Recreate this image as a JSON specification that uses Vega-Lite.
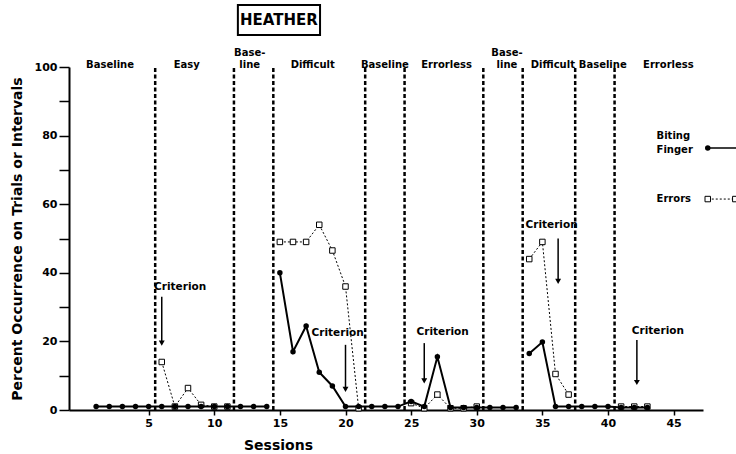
{
  "$schema": "https://vega.github.io/schema/vega-lite/v6.json",
  "width": 634,
  "height": 343,
  "autosize": "none",
  "padding": {"left": 69, "top": 67, "right": 33, "bottom": 44},
  "background": "white",
  "config": {"view": {"stroke": null}, "font": "DejaVu Sans"},
  "datasets": {
    "obs": [
      {"session": 1, "measure": "Biting", "seg": "b1", "value": 1},
      {"session": 2, "measure": "Biting", "seg": "b1", "value": 1},
      {"session": 3, "measure": "Biting", "seg": "b1", "value": 1},
      {"session": 4, "measure": "Biting", "seg": "b1", "value": 1},
      {"session": 5, "measure": "Biting", "seg": "b1", "value": 1},
      {"session": 6, "measure": "Biting", "seg": "b1", "value": 1},
      {"session": 7, "measure": "Biting", "seg": "b1", "value": 1},
      {"session": 8, "measure": "Biting", "seg": "b1", "value": 1},
      {"session": 9, "measure": "Biting", "seg": "b1", "value": 1},
      {"session": 10, "measure": "Biting", "seg": "b1", "value": 1},
      {"session": 11, "measure": "Biting", "seg": "b1", "value": 1},
      {"session": 12, "measure": "Biting", "seg": "b1", "value": 1},
      {"session": 13, "measure": "Biting", "seg": "b1", "value": 1},
      {"session": 14, "measure": "Biting", "seg": "b1", "value": 1},
      {"session": 15, "measure": "Biting", "seg": "b2", "value": 40},
      {"session": 16, "measure": "Biting", "seg": "b2", "value": 17},
      {"session": 17, "measure": "Biting", "seg": "b2", "value": 24.5},
      {"session": 18, "measure": "Biting", "seg": "b2", "value": 11},
      {"session": 19, "measure": "Biting", "seg": "b2", "value": 7},
      {"session": 20, "measure": "Biting", "seg": "b2", "value": 1},
      {"session": 21, "measure": "Biting", "seg": "b2", "value": 1},
      {"session": 22, "measure": "Biting", "seg": "b2", "value": 1},
      {"session": 23, "measure": "Biting", "seg": "b2", "value": 1},
      {"session": 24, "measure": "Biting", "seg": "b2", "value": 1},
      {"session": 25, "measure": "Biting", "seg": "b2", "value": 2.5},
      {"session": 26, "measure": "Biting", "seg": "b2", "value": 1},
      {"session": 27, "measure": "Biting", "seg": "b2", "value": 15.5},
      {"session": 28, "measure": "Biting", "seg": "b2", "value": 0.7},
      {"session": 29, "measure": "Biting", "seg": "b2", "value": 0.7},
      {"session": 30, "measure": "Biting", "seg": "b2", "value": 0.7},
      {"session": 31, "measure": "Biting", "seg": "b2", "value": 0.7},
      {"session": 32, "measure": "Biting", "seg": "b2", "value": 0.7},
      {"session": 33, "measure": "Biting", "seg": "b2", "value": 0.7},
      {"session": 34, "measure": "Biting", "seg": "b3", "value": 16.5},
      {"session": 35, "measure": "Biting", "seg": "b3", "value": 19.8},
      {"session": 36, "measure": "Biting", "seg": "b3", "value": 1},
      {"session": 37, "measure": "Biting", "seg": "b3", "value": 1},
      {"session": 38, "measure": "Biting", "seg": "b3", "value": 1},
      {"session": 39, "measure": "Biting", "seg": "b3", "value": 1},
      {"session": 40, "measure": "Biting", "seg": "b3", "value": 1},
      {"session": 41, "measure": "Biting", "seg": "b3", "value": 0.7},
      {"session": 42, "measure": "Biting", "seg": "b3", "value": 0.7},
      {"session": 43, "measure": "Biting", "seg": "b3", "value": 0.7},
      {"session": 6, "measure": "Errors", "seg": "e1", "value": 14},
      {"session": 7, "measure": "Errors", "seg": "e1", "value": 1},
      {"session": 8, "measure": "Errors", "seg": "e1", "value": 6.4},
      {"session": 9, "measure": "Errors", "seg": "e1", "value": 1.5},
      {"session": 10, "measure": "Errors", "seg": "e1", "value": 1},
      {"session": 11, "measure": "Errors", "seg": "e1", "value": 1},
      {"session": 15, "measure": "Errors", "seg": "e2", "value": 49},
      {"session": 16, "measure": "Errors", "seg": "e2", "value": 49},
      {"session": 17, "measure": "Errors", "seg": "e2", "value": 49},
      {"session": 18, "measure": "Errors", "seg": "e2", "value": 54},
      {"session": 19, "measure": "Errors", "seg": "e2", "value": 46.5},
      {"session": 20, "measure": "Errors", "seg": "e2", "value": 36},
      {"session": 21, "measure": "Errors", "seg": "e2", "value": 0.5},
      {"session": 25, "measure": "Errors", "seg": "e3", "value": 2},
      {"session": 26, "measure": "Errors", "seg": "e3", "value": 0.5},
      {"session": 27, "measure": "Errors", "seg": "e3", "value": 4.5},
      {"session": 28, "measure": "Errors", "seg": "e3", "value": 0.5},
      {"session": 29, "measure": "Errors", "seg": "e3", "value": 0.5},
      {"session": 30, "measure": "Errors", "seg": "e3", "value": 1},
      {"session": 34, "measure": "Errors", "seg": "e4", "value": 44},
      {"session": 35, "measure": "Errors", "seg": "e4", "value": 49},
      {"session": 36, "measure": "Errors", "seg": "e4", "value": 10.5},
      {"session": 37, "measure": "Errors", "seg": "e4", "value": 4.5},
      {"session": 41, "measure": "Errors", "seg": "e5", "value": 1},
      {"session": 42, "measure": "Errors", "seg": "e5", "value": 1},
      {"session": 43, "measure": "Errors", "seg": "e5", "value": 1}
    ],
    "phases": [
      {"session": 5.5, "value": 0, "value2": 100},
      {"session": 11.5, "value": 0, "value2": 100},
      {"session": 14.5, "value": 0, "value2": 100},
      {"session": 21.5, "value": 0, "value2": 100},
      {"session": 24.5, "value": 0, "value2": 100},
      {"session": 30.5, "value": 0, "value2": 100},
      {"session": 33.5, "value": 0, "value2": 100},
      {"session": 37.5, "value": 0, "value2": 100},
      {"session": 40.5, "value": 0, "value2": 100}
    ],
    "phaseLabels": [
      {"session": 2.06, "value": 100.6, "label": "Baseline"},
      {"session": 7.9, "value": 100.6, "label": "Easy"},
      {"session": 12.7, "value": 104.2, "label": "Base-"},
      {"session": 12.7, "value": 100.6, "label": "line"},
      {"session": 17.5, "value": 100.6, "label": "Difficult"},
      {"session": 23.0, "value": 100.6, "label": "Baseline"},
      {"session": 27.7, "value": 100.6, "label": "Errorless"},
      {"session": 32.3, "value": 104.2, "label": "Base-"},
      {"session": 32.3, "value": 100.6, "label": "line"},
      {"session": 35.8, "value": 100.6, "label": "Difficult"},
      {"session": 39.6, "value": 100.6, "label": "Baseline"},
      {"session": 44.6, "value": 100.6, "label": "Errorless"}
    ],
    "criterionText": [
      {"session": 7.4, "value": 35.9, "label": "Criterion"},
      {"session": 19.4, "value": 22.4, "label": "Criterion"},
      {"session": 27.4, "value": 22.7, "label": "Criterion"},
      {"session": 35.7, "value": 53.9, "label": "Criterion"},
      {"session": 43.8, "value": 23, "label": "Criterion"}
    ],
    "arrows": [
      {"session": 6, "value": 33, "value2": 19.5},
      {"session": 20, "value": 19, "value2": 6},
      {"session": 26, "value": 19.5, "value2": 8.5},
      {"session": 36.2, "value": 50, "value2": 37.5},
      {"session": 42.2, "value": 20.4, "value2": 8}
    ],
    "legendText": [
      {"session": 43.7, "value": 79.9, "label": "Biting"},
      {"session": 43.7, "value": 75.8, "label": "Finger"},
      {"session": 43.7, "value": 61.5, "label": "Errors"}
    ],
    "legendBiting": [
      {"session": 47.6, "value": 76.4},
      {"session": 50.5, "value": 76.4}
    ],
    "legendErrors": [
      {"session": 47.6, "value": 61.5},
      {"session": 49.7, "value": 61.5}
    ],
    "titleBox": [
      {"session": 11.8, "session2": 18.06, "value": 118.1, "value2": 109.3, "label": "HEATHER", "mid": 14.93, "midv": 113.7}
    ]
  },
  "encoding": {
    "x": {
      "field": "session",
      "type": "quantitative",
      "scale": {"domain": [-1.067, 47.238], "nice": false, "zero": false},
      "axis": {
        "values": [5, 10, 15, 20, 25, 30, 35, 40, 45],
        "grid": false,
        "domainColor": "black",
        "domainWidth": 2,
        "tickColor": "black",
        "tickWidth": 1.5,
        "tickSize": 5,
        "labelFont": "DejaVu Sans",
        "labelFontWeight": "bold",
        "labelFontSize": 11,
        "labelColor": "black",
        "labelPadding": 2,
        "title": "Sessions",
        "titleFont": "DejaVu Sans",
        "titleFontSize": 14,
        "titleFontWeight": "bold",
        "titleColor": "black",
        "titleX": 209,
        "titleY": 35,
        "titleBaseline": "middle"
      }
    },
    "y": {
      "field": "value",
      "type": "quantitative",
      "scale": {"domain": [0, 100], "nice": false},
      "axis": {
        "values": [0, 10, 20, 30, 40, 50, 60, 70, 80, 90, 100],
        "labelExpr": "datum.value % 20 == 0 ? datum.label : ''",
        "grid": false,
        "domainColor": "black",
        "domainWidth": 2,
        "tickColor": "black",
        "tickWidth": 1.5,
        "tickSize": 10,
        "labelFont": "DejaVu Sans",
        "labelFontWeight": "bold",
        "labelFontSize": 11,
        "labelColor": "black",
        "labelPadding": 2,
        "title": "Percent Occurrence on Trials or Intervals",
        "titleFont": "DejaVu Sans",
        "titleFontSize": 14,
        "titleFontWeight": "bold",
        "titleColor": "black",
        "titleX": -52,
        "titleBaseline": "middle"
      }
    }
  },
  "layer": [
    {
      "data": {"name": "phases"},
      "mark": {"type": "rule", "color": "black", "strokeWidth": 2.5, "strokeDash": [4, 2.5]},
      "encoding": {"y2": {"field": "value2"}}
    },
    {
      "data": {"name": "obs"},
      "transform": [{"filter": "datum.measure == 'Errors'"}],
      "mark": {"type": "line", "color": "black", "strokeWidth": 1, "strokeDash": [2, 2]},
      "encoding": {"detail": {"field": "seg"}}
    },
    {
      "data": {"name": "obs"},
      "transform": [{"filter": "datum.measure == 'Errors'"}],
      "mark": {"type": "point", "shape": "square", "filled": true, "fill": "white", "stroke": "black", "strokeWidth": 1, "size": 30, "opacity": 1}
    },
    {
      "data": {"name": "obs"},
      "transform": [{"filter": "datum.measure == 'Biting'"}],
      "mark": {"type": "line", "color": "black", "strokeWidth": 2},
      "encoding": {"detail": {"field": "seg"}}
    },
    {
      "data": {"name": "obs"},
      "transform": [{"filter": "datum.measure == 'Biting'"}],
      "mark": {"type": "point", "shape": "circle", "filled": true, "color": "black", "size": 30, "opacity": 1}
    },
    {
      "data": {"name": "phaseLabels"},
      "mark": {"type": "text", "font": "DejaVu Sans", "fontWeight": "bold", "fontSize": 10, "color": "black", "baseline": "middle"},
      "encoding": {"text": {"field": "label"}}
    },
    {
      "data": {"name": "criterionText"},
      "mark": {"type": "text", "font": "DejaVu Sans", "fontWeight": "bold", "fontSize": 10.5, "color": "black", "baseline": "middle"},
      "encoding": {"text": {"field": "label"}}
    },
    {
      "data": {"name": "arrows"},
      "mark": {"type": "rule", "color": "black", "strokeWidth": 1.5},
      "encoding": {"y2": {"field": "value2"}}
    },
    {
      "data": {"name": "arrows"},
      "mark": {"type": "point", "shape": "triangle-down", "filled": true, "color": "black", "size": 35, "opacity": 1},
      "encoding": {"y": {"field": "value2", "type": "quantitative"}}
    },
    {
      "data": {"name": "legendText"},
      "mark": {"type": "text", "font": "DejaVu Sans", "fontWeight": "bold", "fontSize": 10, "color": "black", "align": "left", "baseline": "middle"},
      "encoding": {"text": {"field": "label"}}
    },
    {
      "data": {"name": "legendBiting"},
      "mark": {"type": "line", "color": "black", "strokeWidth": 1.5, "clip": false}
    },
    {
      "data": {"name": "legendBiting"},
      "transform": [{"filter": "datum.session < 48"}],
      "mark": {"type": "point", "shape": "circle", "filled": true, "color": "black", "size": 30, "opacity": 1}
    },
    {
      "data": {"name": "legendErrors"},
      "mark": {"type": "line", "color": "black", "strokeWidth": 1, "strokeDash": [2, 2]}
    },
    {
      "data": {"name": "legendErrors"},
      "mark": {"type": "point", "shape": "square", "filled": true, "fill": "white", "stroke": "black", "strokeWidth": 1, "size": 30, "opacity": 1}
    },
    {
      "data": {"name": "titleBox"},
      "mark": {"type": "rect", "fill": "white", "stroke": "black", "strokeWidth": 2},
      "encoding": {"x2": {"field": "session2"}, "y2": {"field": "value2"}}
    },
    {
      "data": {"name": "titleBox"},
      "mark": {"type": "text", "font": "DejaVu Sans", "fontWeight": "bold", "fontSize": 15, "color": "black", "baseline": "middle"},
      "encoding": {
        "x": {"field": "mid", "type": "quantitative"},
        "y": {"field": "midv", "type": "quantitative"},
        "text": {"field": "label"}
      }
    }
  ]
}
